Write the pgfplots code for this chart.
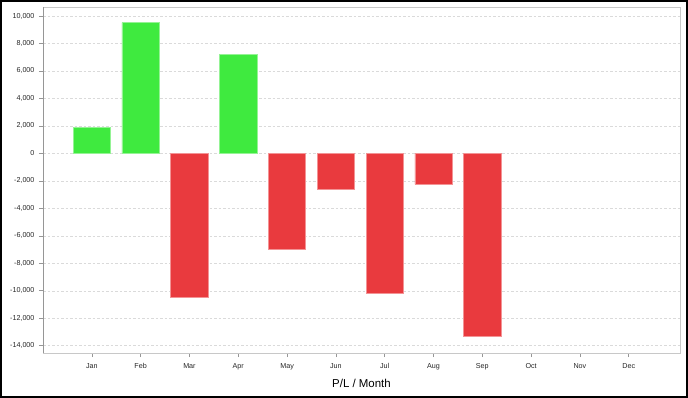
\documentclass[border=0pt]{standalone}
\usepackage{pgfplots}
\pgfplotsset{compat=1.18}
\usepackage{fontspec}
\setmainfont{Liberation Sans}
\definecolor{pgreen}{RGB}{63,234,63}
\definecolor{pred}{RGB}{233,58,62}
\definecolor{gridc}{RGB}{218,218,218}
\definecolor{axc}{RGB}{150,150,150}
\definecolor{boxc}{RGB}{200,200,200}
\begin{document}
\begin{tikzpicture}
\draw[line width=2bp] (1bp,1bp) rectangle (687bp,397bp);
\begin{axis}[
  at={(43bp,45bp)}, anchor=south west,
  scale only axis, width=637bp, height=346bp,
  xmin=-1, xmax=12.05, ymin=-14530, ymax=10655,
  ybar, bar width=0.765, bar shift=0pt,
  xtick={0,...,11},
  xticklabels={Jan,Feb,Mar,Apr,May,Jun,Jul,Aug,Sep,Oct,Nov,Dec},
  ytick={-14000,-12000,...,10000},
  scaled y ticks=false,
  xtick pos=bottom, ytick pos=left,
  tick align=outside, major tick length=4bp,
  tick style={axc, line width=0.6bp},
  axis line style={boxc, line width=0.8bp},
  ymajorgrids, major grid style={gridc, dash pattern=on 2.5bp off 2bp, line width=0.5bp},
  ticklabel style={font=\fontsize{7.2}{8}\selectfont, text=black!85},
  /pgf/number format/assume math mode=true,
  /pgf/number format/fixed,
  /pgf/number format/1000 sep={,},
  yticklabel style={xshift=-1bp},
  xticklabel style={yshift=-3bp},
  xlabel={P/L / Month},
  xlabel style={font=\fontsize{11.5}{13}\selectfont, yshift=-2bp},
]
\addplot[fill=pgreen, draw=pgreen!55!white, line width=0.6bp] coordinates {(0,1870) (1,9510) (3,7210)};
\addplot[fill=pred, draw=pred!55!white, line width=0.6bp] coordinates {(2,-10470) (4,-7000) (5,-2650) (6,-10200) (7,-2250) (8,-13350)};
\draw[axc, line width=0.8bp] (rel axis cs:0,1) -- (rel axis cs:0,0) -- (rel axis cs:1,0);
\end{axis}
\pgfresetboundingbox
\useasboundingbox (0,0) rectangle (688bp,398bp);
\end{tikzpicture}
\end{document}
